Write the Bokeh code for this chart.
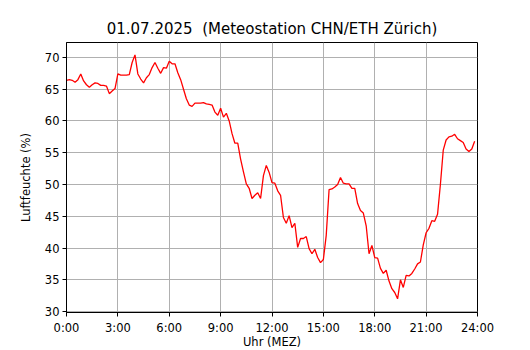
import numpy as np
from bokeh.plotting import figure
from bokeh.models import FixedTicker, Range1d
from bokeh.embed import file_html
from bokeh.resources import INLINE

# 10-minute humidity values (%) from 0:00 to 23:50
humidity = [
    66.4, 66.5, 66.4, 66.1, 66.5, 67.4,   # 0h
    66.3, 65.7, 65.3, 65.7, 66.0, 65.9,   # 1h
    65.6, 65.6, 65.5, 64.3, 64.7, 65.1,   # 2h
    67.4, 67.2, 67.2, 67.2, 67.3, 69.2,   # 3h
    70.4, 67.4, 66.6, 66.0, 66.8, 67.3,   # 4h
    68.4, 69.2, 68.3, 67.5, 68.4, 68.3,   # 5h
    69.4, 69.0, 69.0, 67.6, 66.5, 65.0,   # 6h
    63.5, 62.5, 62.3, 62.8, 62.8, 62.8,   # 7h
    62.9, 62.7, 62.6, 62.5, 61.4, 60.9,   # 8h
    62.0, 60.6, 61.2, 60.0, 58.0, 56.5,   # 9h
    56.5, 54.0, 52.0, 50.1, 49.4, 47.8,   # 10h
    48.3, 48.7, 47.8, 51.4, 53.0, 51.9,   # 11h
    50.3, 50.2, 49.0, 48.3, 44.8, 43.9,   # 12h
    45.1, 43.2, 43.9, 40.1, 41.5, 41.5,   # 13h
    41.8, 39.9, 39.1, 39.8, 38.5, 37.7,   # 14h
    38.2, 42.0, 49.2, 49.3, 49.6, 50.0,   # 15h
    51.1, 50.2, 50.1, 50.1, 49.4, 49.4,   # 16h
    47.0, 45.9, 45.5, 43.5, 39.1, 40.4,   # 17h
    38.5, 38.4, 36.8, 36.0, 36.5, 34.8,   # 18h
    33.6, 33.0, 32.0, 35.0, 33.8, 35.7,   # 19h
    35.6, 36.0, 36.7, 37.5, 37.8, 40.5,   # 20h
    42.4, 43.1, 44.3, 44.2, 45.3, 50.0,   # 21h
    55.4, 57.0, 57.5, 57.6, 57.9, 57.2,   # 22h
    56.9, 56.6, 55.6, 55.2, 55.6, 56.8,   # 23h
]
hours = [i / 6.0 for i in range(len(humidity))]

x_ticks = [0, 3, 6, 9, 12, 15, 18, 21, 24]
x_labels = ["0:00", "3:00", "6:00", "9:00", "12:00", "15:00", "18:00", "21:00", "24:00"]
y_ticks = [30, 35, 40, 45, 50, 55, 60, 65, 70]

FONT = "DejaVu Sans"

p = figure(frame_width=411, frame_height=270, output_backend="svg", toolbar_location=None,
           x_range=Range1d(0, 24), y_range=Range1d(29.85, 72.35),
           title="01.07.2025 \u00a0(Meteostation CHN/ETH Zürich)")
p.min_border_left = 66
p.min_border_right = 45
p.min_border_top = 42
p.min_border_bottom = 34

p.title.align = "center"
p.title.text_font = FONT
p.title.text_font_size = "15px"
p.title.text_font_style = "normal"
p.title.text_color = "black"

p.line(hours, humidity, line_color="red", line_width=1.3)

p.xaxis.ticker = FixedTicker(ticks=x_ticks)
p.xaxis.major_label_overrides = {t: l for t, l in zip(x_ticks, x_labels)}
p.yaxis.ticker = FixedTicker(ticks=y_ticks)
p.xaxis.axis_label = "Uhr (MEZ)"
p.yaxis.axis_label = "Luftfeuchte (%)"

for ax in (p.xaxis, p.yaxis):
    ax.axis_label_text_font = FONT
    ax.axis_label_text_font_size = "11.5px"
    ax.axis_label_text_font_style = "normal"
    ax.axis_label_text_color = "black"
    ax.major_label_text_font = FONT
    ax.major_label_text_font_size = "11.5px"
    ax.major_label_text_color = "black"
    ax.axis_line_color = "black"
    ax.major_tick_line_color = "black"
    ax.major_tick_out = 4
    ax.major_tick_in = 0
    ax.minor_tick_line_color = None
    ax.axis_label_standoff = 3
    ax.major_label_standoff = 3

p.xaxis.major_label_standoff = 4
p.xaxis.axis_label_standoff = -3
p.yaxis.axis_label_standoff = 9

p.grid.grid_line_color = "#b0b0b0"
p.grid.grid_line_width = 1
p.outline_line_color = "black"
p.outline_line_width = 1
p.outline_line_alpha = 1

open("out.html", "w").write(file_html(p, INLINE))
